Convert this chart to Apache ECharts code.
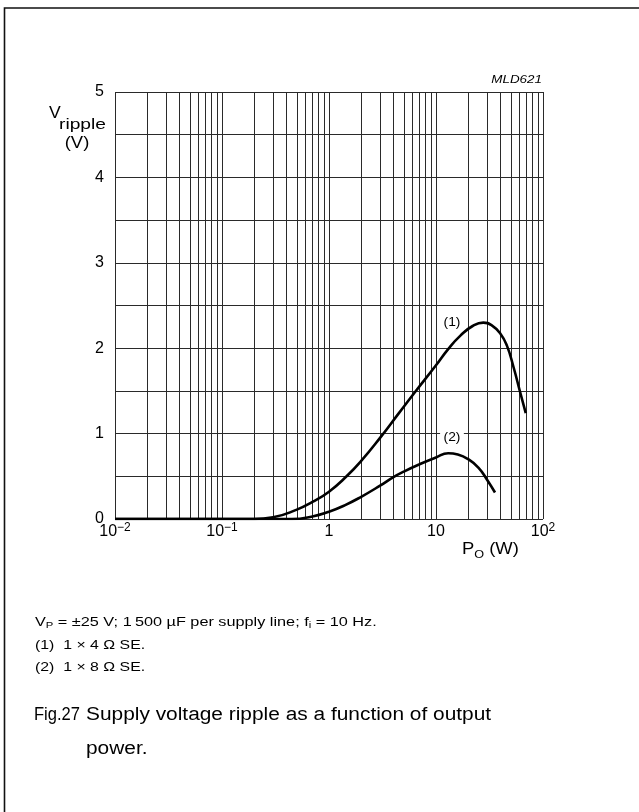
<!DOCTYPE html>
<html><head><meta charset="utf-8">
<script src="https://cdn.jsdelivr.net/npm/echarts@6/dist/echarts.min.js"></script>
<style>html,body{margin:0;padding:0;background:#fff}#c{width:639px;height:812px}</style>
</head><body><div id="c"></div>
<script>
// ---- data ----
const powerW1 = [0.01, 0.2, 0.3, 0.5, 0.7, 1, 1.46, 2, 3, 4.5, 6.4, 10, 13, 17, 22, 27.7, 33, 40, 46, 53, 61, 69];
const ripple1 = [0, 0, 0.02, 0.11, 0.2, 0.32, 0.5, 0.68, 0.95, 1.24, 1.49, 1.80, 1.99, 2.15, 2.26, 2.30, 2.27, 2.17, 2.03, 1.78, 1.49, 1.24];
const powerW2 = [0.01, 0.45, 0.7, 1, 1.4, 2, 3, 4, 5, 7, 10, 13, 16, 20, 25, 30, 35.6];
const ripple2 = [0, 0, 0.03, 0.086, 0.16, 0.26, 0.39, 0.49, 0.555, 0.64, 0.72, 0.77, 0.755, 0.70, 0.60, 0.46, 0.31];
const xTickValues = [0.01, 0.1, 1, 10, 100];
const xTickLabels = ['10^−2', '10^−1', '1', '10', '10^2'];
const yTickLabels = ['0', '1', '2', '3', '4', '5'];
const decadeStarts = [0.01, 0.1, 1, 10];
const decadeMultipliers = [1, 2, 3, 4, 5, 6, 7, 8, 9];
const curveNames = ['(1)', '(2)'];
const curveLabelAt = [[14.1, 2.295], [14.1, 0.95]];

const FONT = '"Liberation Sans", Arial, Helvetica, sans-serif';
const gridXs = [];
decadeStarts.forEach(d => decadeMultipliers.forEach(m => gridXs.push(+(d * m).toPrecision(3))));
gridXs.push(100);

function xLabel(v) {
  const e = Math.round(Math.log10(v));
  const idx = xTickValues.findIndex(t => Math.round(Math.log10(t)) === e);
  if (idx < 0) return '';
  const s = xTickLabels[idx];
  if (s.indexOf('^') >= 0) {
    const [b, p] = s.split('^');
    return '{n|' + b + '}{s|' + p + '}';
  }
  return '{n|' + s + '}';
}

const chart = echarts.init(document.getElementById('c'), null, {renderer: 'canvas'});
const lineStyleGrid = {color: '#2a2a2a', width: 1, type: 'solid'};
chart.setOption({
  animation: false,
  backgroundColor: '#fff',
  grid: {left: 115, right: 96, top: 92, bottom: 293, containLabel: false, show: false},
  xAxis: {
    type: 'log', logBase: 10, min: 0.01, max: 100,
    axisLine: {show: false}, axisTick: {show: false}, splitLine: {show: false},
    axisLabel: {
      margin: 3, color: '#000', formatter: xLabel,
      rich: {
        n: {fontFamily: FONT, fontSize: 16, color: '#000', lineHeight: 20, verticalAlign: 'middle'},
        s: {fontFamily: FONT, fontSize: 12, color: '#000', lineHeight: 12, verticalAlign: 'top'}
      }
    }
  },
  yAxis: {
    type: 'value', min: 0, max: 5, interval: 0.5,
    axisLine: {show: false}, axisTick: {show: false},
    splitLine: {show: true, lineStyle: lineStyleGrid},
    axisLabel: {
      margin: 11, color: '#000', fontFamily: FONT, fontSize: 16,
      formatter: v => Number.isInteger(v) ? yTickLabels[v] : ''
    }
  },
  series: [
    {
      type: 'line', data: [], silent: true, z: 1,
      markLine: {
        silent: true, symbol: ['none', 'none'], animation: false,
        label: {show: false}, lineStyle: lineStyleGrid,
        emphasis: {disabled: true},
        data: gridXs.map(v => ({xAxis: v}))
      }
    },
    {
      type: 'line', name: curveNames[0], z: 5, smooth: 0.5, symbol: 'none', silent: true,
      lineStyle: {color: '#000', width: 2.6},
      data: powerW1.map((p, i) => [p, ripple1[i]])
    },
    {
      type: 'line', name: curveNames[1], z: 5, smooth: 0.5, symbol: 'none', silent: true,
      lineStyle: {color: '#000', width: 2.6},
      data: powerW2.map((p, i) => [p, ripple2[i]])
    }
  ]
});

const lab = curveLabelAt.map(c => chart.convertToPixel({gridIndex: 0}, c));
const txt = (x, y, text, size, sx, style) => ({
  type: 'text', x: x, y: y, z: 20, scaleX: sx,
  style: Object.assign({text: text, fill: '#000', font: size + 'px ' + FONT, align: 'left', verticalAlign: 'middle'}, style || {})
});

chart.setOption({
  graphic: [
    {type: 'rect', z: 0, shape: {x: 4.5, y: 8, width: 800, height: 900},
     style: {fill: 'none', stroke: '#111', lineWidth: 1.6}},
    txt(542, 80, 'MLD621', 11, 1.22, {align: 'right', font: 'italic 11px ' + FONT}),
    txt(49, 114, 'V', 16, 1.1),
    txt(59, 125, 'ripple', 15, 1.28),
    txt(77, 144, '(V)', 16, 1.15, {align: 'center'}),
    txt(462, 550, '', 16, 1.15, {
      text: '{n|P}{s|O}{n| (W)}',
      rich: {
        n: {fontFamily: FONT, fontSize: 16, lineHeight: 20, verticalAlign: 'middle', fill: '#000'},
        s: {fontFamily: FONT, fontSize: 11, lineHeight: 11, verticalAlign: 'bottom', fill: '#000'}
      }
    }),
    txt(lab[0][0], lab[0][1], curveNames[0], 12, 1.15, {align: 'center'}),
    txt(lab[1][0], lab[1][1], curveNames[1], 12, 1.15, {align: 'center', backgroundColor: '#fff', padding: [1, 3, 1, 3]}),
    txt(35, 622, '', 13, 1.25, {
      text: '{n|V}{sub|P}{n| = ±25 V; 1\u2009500 µF per supply line; f}{sub|i}{n| = 10 Hz.}',
      rich: {
        n: {fontFamily: FONT, fontSize: 13, lineHeight: 17, verticalAlign: 'middle', fill: '#000'},
        sub: {fontFamily: FONT, fontSize: 9, lineHeight: 9, verticalAlign: 'bottom', fill: '#000'}
      }
    }),
    txt(35, 645, '(1)  1 × 4 Ω SE.', 13, 1.22),
    txt(35, 667, '(2)  1 × 8 Ω SE.', 13, 1.22),
    txt(34, 715, 'Fig.27', 18, 0.92),
    txt(86, 715, 'Supply voltage ripple as a function of output', 18, 1.16),
    txt(86, 749, 'power.', 18, 1.16)
  ]
});
</script>
</body></html>
